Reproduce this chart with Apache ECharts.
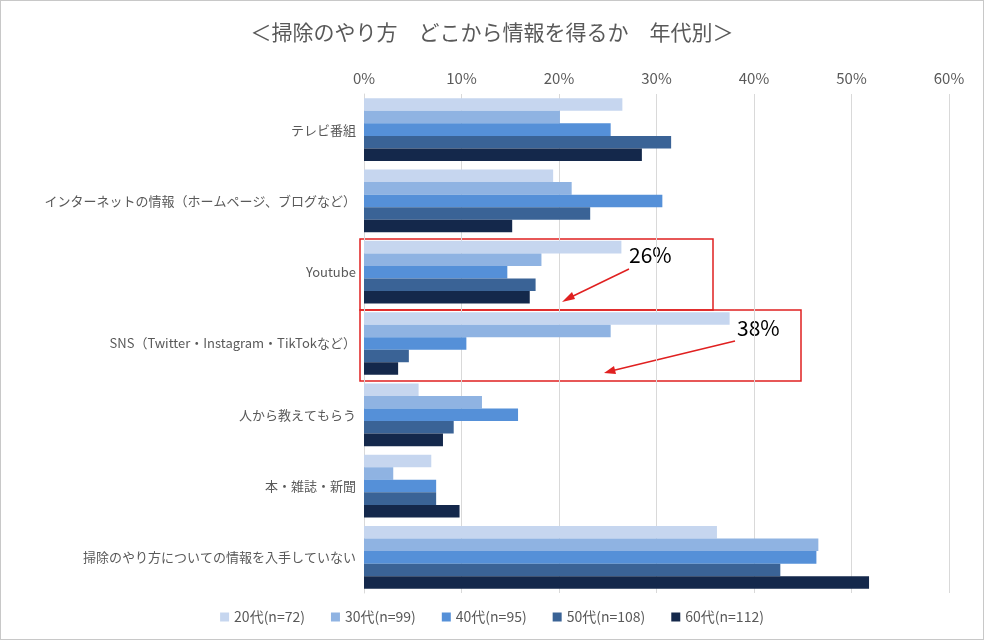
<!DOCTYPE html><html><head><meta charset="utf-8"><script src="https://cdn.jsdelivr.net/npm/echarts@6/dist/echarts.min.js"></script>
<style>html,body{margin:0;padding:0;background:#fff}#c{width:984px;height:640px;box-sizing:border-box;border:1px solid #c8c8c8}</style></head><body><div id="c"></div><script>
const categories=['テレビ番組','インターネットの情報（ホームページ、ブログなど）','Youtube','SNS（Twitter・Instagram・TikTokなど）','人から教えてもらう','本・雑誌・新聞','掃除のやり方についての情報を入手していない'];
const seriesNames=['20代(n=72)','30代(n=99)','40代(n=95)','50代(n=108)','60代(n=112)'];
const s20=[26.5,19.4,26.4,37.5,5.6,6.9,36.2];
const s30=[20.1,21.3,18.2,25.3,12.1,3.0,46.6];
const s40=[25.3,30.6,14.7,10.5,15.8,7.4,46.4];
const s50=[31.5,23.2,17.6,4.6,9.2,7.4,42.7];
const s60=[28.5,15.2,17.0,3.5,8.1,9.8,51.8];
const colors=['#c6d6ef','#8fb3e2','#5590d8','#3a6396','#14284b'];
const all=[s20,s30,s40,s50,s60];
const font='"Noto Sans CJK JP","Noto Sans",sans-serif';
const chart=echarts.init(document.getElementById('c'));
chart.setOption({
 animation:false,textStyle:{fontFamily:font},
 title:{text:'＜掃除のやり方　どこから情報を得るか　年代別＞',left:'center',top:16,textStyle:{fontSize:21,fontWeight:'normal',color:'#595959',fontFamily:font}},
 legend:{bottom:10,left:'center',itemWidth:9,itemHeight:9,itemGap:26,icon:'rect',textStyle:{fontSize:14,color:'#595959'},data:seriesNames},
 grid:{left:363,right:34,top:93,bottom:46},
 xAxis:{type:'value',position:'top',min:0,max:60,interval:10,axisLabel:{formatter:'{value}%',fontSize:15,color:'#595959'},splitLine:{lineStyle:{color:'#d9d9d9'}},axisLine:{show:false},axisTick:{show:false}},
 yAxis:{type:'category',inverse:true,data:categories,axisTick:{show:false},axisLine:{lineStyle:{color:'#d9d9d9'}},axisLabel:{fontSize:13,color:'#595959'}},
 series:all.map((d,i)=>({name:seriesNames[i],type:'bar',data:d,barGap:'0%',barCategoryGap:'12%',itemStyle:{color:colors[i]}})),
 graphic:[
  {type:'rect',shape:{x:359,y:238,width:353,height:71},style:{fill:'none',stroke:'#e02020',lineWidth:1.5}},
  {type:'rect',shape:{x:359,y:309,width:441,height:71},style:{fill:'none',stroke:'#e02020',lineWidth:1.5}},
  {type:'text',left:628,top:244,style:{text:'26%',fontSize:21,fill:'#000',fontFamily:font}},
  {type:'text',left:736,top:317,style:{text:'38%',fontSize:21,fill:'#000',fontFamily:font}},
  {type:'line',shape:{x1:628,y1:268,x2:566,y2:298},style:{stroke:'#e02020',lineWidth:1.5}},
  {type:'polygon',shape:{points:[[561,301],[571,291],[574,298]]},style:{fill:'#e02020'}},
  {type:'line',shape:{x1:734,y1:340,x2:610,y2:370},style:{stroke:'#e02020',lineWidth:1.5}},
  {type:'polygon',shape:{points:[[603,372],[613,365],[615,373]]},style:{fill:'#e02020'}}
 ]
});
</script></body></html>
